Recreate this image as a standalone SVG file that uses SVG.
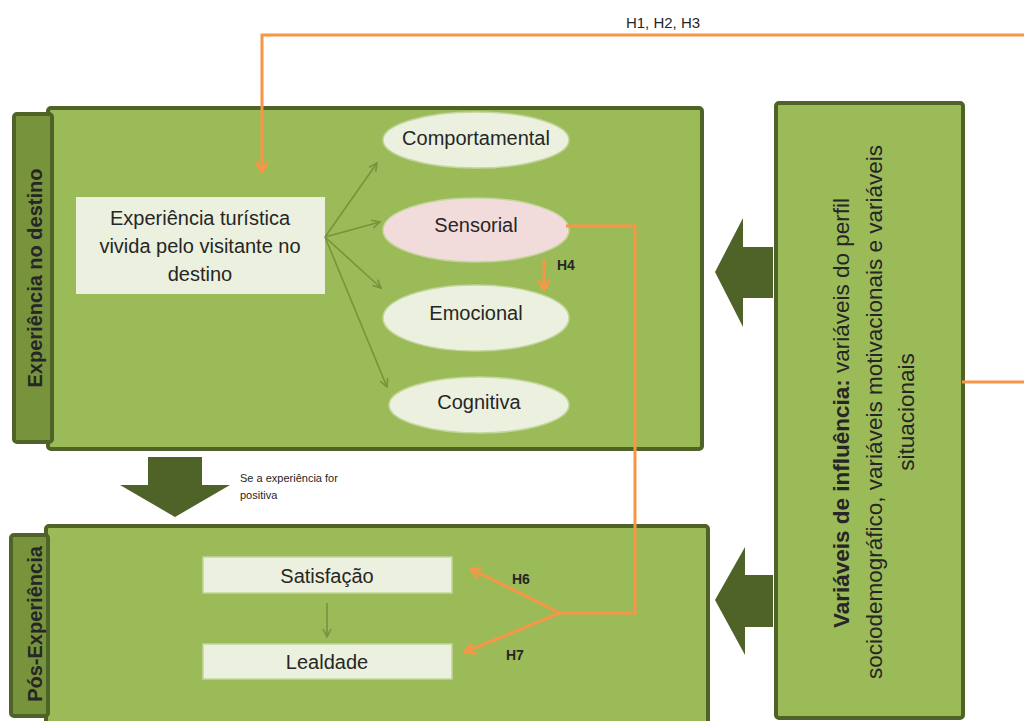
<svg xmlns="http://www.w3.org/2000/svg" width="1024" height="721" viewBox="0 0 1024 721">
<defs>
<style>
text{font-family:"Liberation Sans",Arial,sans-serif;fill:#262626}
.panel{fill:#9bbb59;stroke:#4f6228;stroke-width:4}
.tab{fill:#77933c;stroke:#4f6228;stroke-width:4}
.box{fill:#ebf1de;stroke:#c3d69b;stroke-width:1.5}
.ell{fill:#ebf1de;stroke:#c3d69b;stroke-width:1.5}
.big{fill:#4f6228}
.g{fill:none;stroke:#77933c;stroke-width:1.6}
.o{fill:none;stroke:#f79646;stroke-width:3}
.lbl{font-size:20px;text-anchor:middle}
.h{font-size:14px;font-weight:bold}
.side{font-size:20px;font-weight:bold;text-anchor:middle}
.vr{font-size:22.5px;text-anchor:middle}
</style>
<marker id="ga" viewBox="0 0 10 10" refX="9" refY="5" markerWidth="10" markerHeight="10" markerUnits="userSpaceOnUse" orient="auto">
<path d="M1,1 L9,5 L1,9" fill="none" stroke="#77933c" stroke-width="1.6"/>
</marker>
<marker id="oa" viewBox="0 0 14 14" refX="12" refY="7" markerWidth="14" markerHeight="14" markerUnits="userSpaceOnUse" orient="auto">
<path d="M2,1.5 L12,7 L2,12.5" fill="none" stroke="#f79646" stroke-width="3"/>
</marker>
</defs>

<g id="panel-experiencia">
<rect class="panel" x="48" y="108" width="654" height="341" rx="3"/>
<rect class="tab" x="14" y="114" width="38" height="328" rx="3"/>
<text class="side" transform="translate(42,278) rotate(-90)">Experiência no destino</text>
</g>

<g id="panel-pos">
<rect class="panel" x="46" y="526" width="662" height="200" rx="3"/>
<rect class="tab" x="11" y="535" width="37" height="181" rx="3"/>
<text class="side" transform="translate(42,624) rotate(-90)">Pós-Experiência</text>
</g>

<g id="panel-variaveis">
<rect class="panel" x="776" y="103" width="187" height="615" rx="3"/>
<text class="vr" transform="translate(849,413) rotate(-90)"><tspan font-weight="bold">Variáveis de influência:</tspan> variáveis do perfil</text>
<text class="vr" transform="translate(882,412) rotate(-90)">sociodemográfico, variáveis motivacionais e variáveis</text>
<text class="vr" transform="translate(914,412) rotate(-90)">situacionais</text>
</g>

<g id="node-experiencia">
<rect class="box" x="76" y="197" width="249" height="97" style="stroke:none"/>
<text class="lbl" x="200" y="225">Experiência turística</text>
<text class="lbl" x="200" y="253">vivida pelo visitante no</text>
<text class="lbl" x="200" y="281">destino</text>
</g>

<g id="node-comportamental">
<ellipse class="ell" cx="476" cy="140" rx="93" ry="28"/>
<text class="lbl" x="476" y="145">Comportamental</text>
</g>
<g id="node-sensorial">
<ellipse class="ell" cx="476" cy="230" rx="93" ry="32" style="fill:#f2dcdb"/>
<text class="lbl" x="476" y="232">Sensorial</text>
</g>
<g id="node-emocional">
<ellipse class="ell" cx="476" cy="318" rx="93" ry="33"/>
<text class="lbl" x="476" y="320">Emocional</text>
</g>
<g id="node-cognitiva">
<ellipse class="ell" cx="479" cy="405" rx="90" ry="28"/>
<text class="lbl" x="479" y="409">Cognitiva</text>
</g>

<g id="node-satisfacao">
<rect class="box" x="203" y="557" width="249" height="36"/>
<text class="lbl" x="327" y="583">Satisfação</text>
</g>
<g id="node-lealdade">
<rect class="box" x="203" y="644" width="249" height="35"/>
<text class="lbl" x="327" y="669">Lealdade</text>
</g>

<g id="connectors">
<polygon class="big" points="148,457 202,457 202,485 230,485 175,517 120,485 148,485"/>
<polygon class="big" points="773,247 743,247 743,218 715,272 743,327 743,298 773,298"/>
<polygon class="big" points="773,575 745,575 745,547 715,600 745,655 745,627 773,627"/>

<line class="g" x1="325" y1="237" x2="377" y2="163" marker-end="url(#ga)"/>
<line class="g" x1="325" y1="237" x2="380" y2="222" marker-end="url(#ga)"/>
<line class="g" x1="325" y1="237" x2="381" y2="288" marker-end="url(#ga)"/>
<line class="g" x1="325" y1="237" x2="387" y2="387" marker-end="url(#ga)"/>
<line class="g" x1="327" y1="603" x2="327" y2="637" marker-end="url(#ga)"/>

<path class="o" d="M962,382 L1030,382 L1030,35 L262,35 L262,172" marker-end="url(#oa)"/>
<path class="o" d="M566,226 L635,226 L635,613 L560,613"/>
<line class="o" x1="544" y1="260" x2="544" y2="290" marker-end="url(#oa)"/>
<line class="o" x1="560" y1="613" x2="471" y2="569" marker-end="url(#oa)"/>
<line class="o" x1="560" y1="613" x2="465" y2="652" marker-end="url(#oa)"/>

<text x="663" y="28" text-anchor="middle" style="font-size:15px">H1, H2, H3</text>
<text class="h" x="557" y="270">H4</text>
<text class="h" x="512" y="584">H6</text>
<text class="h" x="506" y="660">H7</text>
<text x="240" y="482" style="font-size:11px">Se a experiência for</text>
<text x="240" y="499" style="font-size:11px">positiva</text>
</g>
</svg>
